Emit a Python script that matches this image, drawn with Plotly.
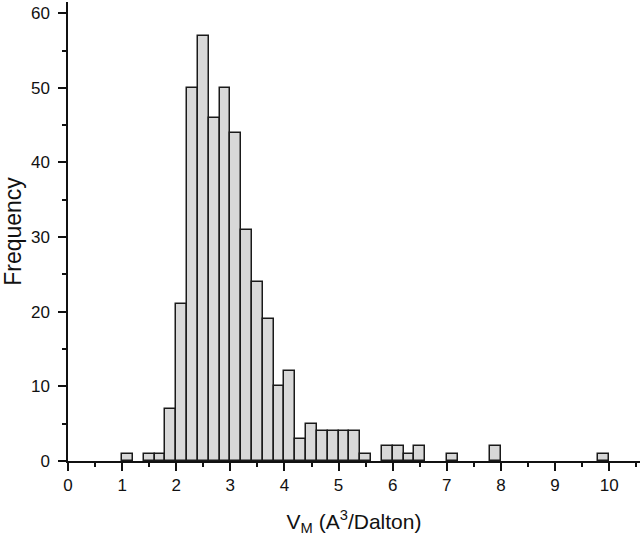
import plotly.graph_objects as go

bin_left = [1.0, 1.4, 1.6, 1.8, 2.0, 2.2, 2.4, 2.6, 2.8, 3.0, 3.2, 3.4, 3.6, 3.8,
            4.0, 4.2, 4.4, 4.6, 4.8, 5.0, 5.2, 5.4, 5.8, 6.0, 6.2, 6.4, 7.0, 7.8, 9.8]
counts = [1, 1, 1, 7, 21, 50, 57, 46, 50, 44, 31, 24, 19, 10,
          12, 3, 5, 4, 4, 4, 4, 1, 2, 2, 1, 2, 1, 2, 1]
bin_width = 0.2

fig = go.Figure(go.Bar(
    x=bin_left, y=counts, width=bin_width, offset=0,
    marker=dict(color="#d8d8d8", line=dict(color="#1a1a1a", width=1.5)),
))

font = "Liberation Sans, Arial, sans-serif"
fig.update_layout(
    width=640, height=542,
    margin=dict(l=68, r=0, t=2, b=81),
    plot_bgcolor="white", paper_bgcolor="white",
    showlegend=False, bargap=0,
    font=dict(family=font, color="#111", size=17),
    xaxis=dict(
        range=[0, 10.57], tickmode="linear", tick0=0, dtick=1,
        ticks="outside", ticklen=8, tickwidth=1.5, tickcolor="#111",
        showline=True, linecolor="#111", linewidth=1.5,
        showgrid=False, zeroline=False, automargin=False,
        minor=dict(ticks="outside", ticklen=4, tickwidth=1.5, tickcolor="#111", dtick=0.5, tick0=0, showgrid=False),
        tickfont=dict(size=17),
        title=dict(text="V<sub>M</sub> (A<sup>3</sup>/Dalton)", font=dict(size=21), standoff=20),
    ),
    yaxis=dict(
        range=[0, 61.5], tickmode="linear", tick0=0, dtick=10,
        ticks="outside", ticklen=8, tickwidth=1.5, tickcolor="#111",
        showline=True, linecolor="#111", linewidth=1.5,
        showgrid=False, zeroline=False, automargin=False,
        ticklabelstandoff=5,
        minor=dict(ticks="outside", ticklen=4, tickwidth=1.5, tickcolor="#111", dtick=5, tick0=0, showgrid=False),
        tickfont=dict(size=17),
        title=dict(text="Frequency", font=dict(size=23), standoff=3),
    ),
)

fig.write_html("out.html", config={"displayModeBar": False},
               post_script="document.body.style.margin='0';")
